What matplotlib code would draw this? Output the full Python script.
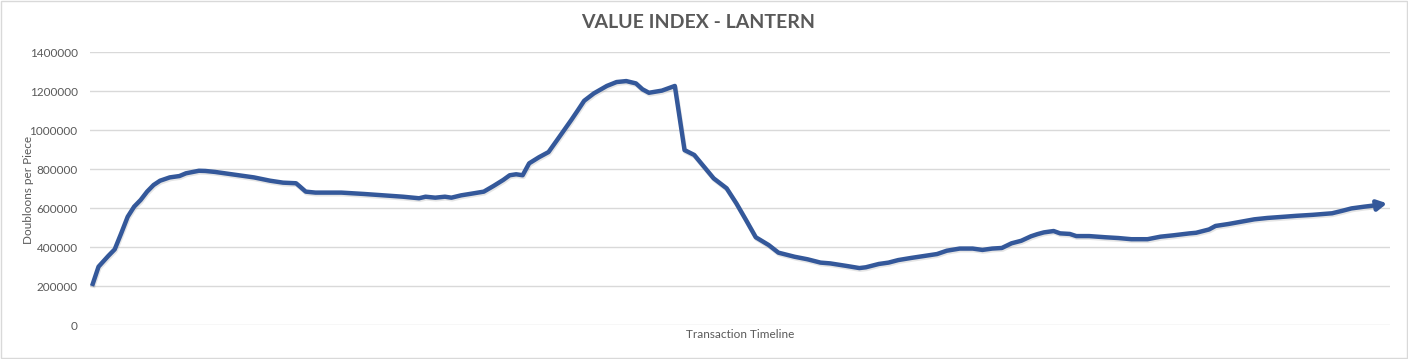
""" Value index line chart for the Lantern, drawn in the style of an
Excel line chart with an arrow at the end of the series. """

import matplotlib
matplotlib.use('Agg')
import matplotlib.pyplot as plt
import matplotlib.patheffects as pe
from matplotlib.patches import Rectangle

# transaction number along the timeline and the value index at that point
transaction = [0, 2, 5, 7, 9, 11, 13, 15, 17, 19, 21, 24, 27, 29, 33, 35, 38,
               41, 44, 47, 50, 55, 59, 63, 64, 66, 69, 77, 84, 90, 96, 101,
               103, 106, 109, 111, 114, 117, 121, 124, 127, 129, 131, 133,
               135, 138, 141, 144, 146, 148, 150, 152, 155, 159, 162, 165,
               168, 170, 172, 176, 180, 183, 186, 189, 192, 196, 199, 202,
               205, 209, 212, 217, 221, 225, 228, 233, 237, 239, 243, 246,
               249, 253, 257, 261, 264, 268, 272, 275, 278, 281, 284, 287,
               290, 292, 294, 297, 299, 302, 304, 308, 313, 317, 321, 326,
               330, 334, 339, 341, 345, 347, 351, 355, 359, 363, 368, 372,
               377, 383, 386, 389, 393, 397, 400]
value = [200000, 299000, 354000, 388000, 470000, 555000, 607000, 641000,
         684000, 718000, 740000, 757000, 764000, 778000, 791000, 790000,
         785000, 778000, 771000, 764000, 757000, 740000, 730000, 727000,
         713000, 684000, 679000, 679000, 672000, 665000, 658000, 650000,
         658000, 653000, 658000, 653000, 665000, 673000, 684000, 713000,
         744000, 768000, 773000, 768000, 829000, 860000, 887000, 957000,
         1004000, 1051000, 1100000, 1150000, 1188000, 1226000, 1246000,
         1251000, 1239000, 1209000, 1191000, 1202000, 1226000, 897000,
         872000, 812000, 752000, 701000, 624000, 538000, 450000, 410000,
         371000, 350000, 337000, 320000, 316000, 303000, 292000, 296000,
         313000, 320000, 333000, 344000, 354000, 364000, 381000, 392000,
         392000, 385000, 392000, 395000, 419000, 432000, 455000, 466000,
         475000, 482000, 470000, 467000, 456000, 456000, 450000, 446000,
         440000, 440000, 453000, 460000, 470000, 473000, 490000, 508000,
         518000, 530000, 542000, 549000, 555000, 560000, 565000, 573000,
         585000, 598000, 607000, 615000, 624000]

yticks = [0, 200000, 400000, 600000, 800000, 1000000, 1200000, 1400000]

plt.rcParams['font.family'] = ['Lato', 'DejaVu Sans']
text_color = '#595959'
line_color = '#34589a'

fig = plt.figure(figsize=(14.08, 3.59), dpi=100)
ax = fig.add_axes([0.064, 0.0947, 0.923, 0.7604])

shadow = [pe.SimpleLineShadow(offset=(0.6, -1.2), shadow_color='#8c8c8c',
                              alpha=0.22),
          pe.Normal()]
ax.plot(transaction[:-1], value[:-1], color=line_color, lw=3.2,
        solid_joinstyle='round', solid_capstyle='butt', path_effects=shadow)
# arrow head at the end of the series
ax.annotate('', xy=(transaction[-1], value[-1]),
            xytext=(transaction[-2], value[-2]),
            arrowprops=dict(arrowstyle='-|>,head_length=0.55,head_width=0.3',
                            color=line_color, lw=3.2, shrinkA=0, shrinkB=0))

ax.set_xlim(-0.6, 400.8)
ax.set_ylim(0, 1400000)
ax.set_yticks(yticks)
ax.set_yticklabels([str(v) for v in yticks])
ax.set_xticks([])
ax.grid(axis='y', color='#d9d9d9', lw=1.0)
ax.set_axisbelow(True)
for s in ax.spines.values():
    s.set_visible(False)
ax.tick_params(axis='y', length=0, pad=9, labelsize=8.5, labelcolor=text_color)

ax.set_ylabel('Doubloons per Piece', fontsize=8.5, color=text_color)
ax.yaxis.set_label_coords(-0.043, 0.495)
ax.set_xlabel('Transaction Timeline', fontsize=8.5, color=text_color,
              labelpad=3)
fig.text(0.496, 0.938, 'VALUE INDEX - LANTERN', ha='center', va='center',
         fontsize=14, fontweight='bold', color=text_color)

fig.patches.append(Rectangle((0.001, 0.002), 0.998, 0.995,
                             transform=fig.transFigure, fill=False,
                             edgecolor='#d9d9d9', lw=1.0))

fig.savefig('out.png', dpi=100)
